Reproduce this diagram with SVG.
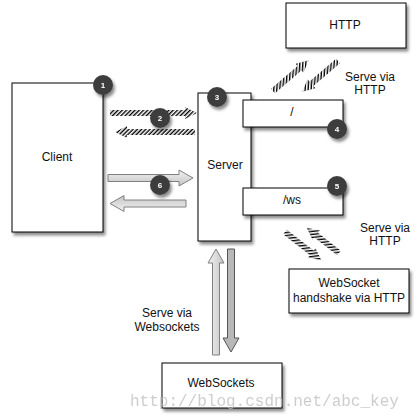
<svg xmlns="http://www.w3.org/2000/svg" width="419" height="418" viewBox="0 0 419 418">
<defs>
<style>
.box{fill:#fff;stroke:#000;stroke-width:1}
.lbl{font-family:"Liberation Sans",Arial,sans-serif;font-size:12px;fill:#111;text-anchor:middle}
.badge circle{fill:#3e3e3e}
.badge text{font-family:"Liberation Sans",Arial,sans-serif;font-size:8px;font-weight:bold;fill:#fff;text-anchor:middle}
.hat{fill:url(#hatch)}
.blk{fill:url(#lightg);stroke:#808080;stroke-width:1}
.blkd{fill:#b8b8b8;stroke:#555;stroke-width:1}
.wm{font-family:"Liberation Mono","DejaVu Sans Mono",monospace;font-size:16px;fill:#bdbdbd;opacity:0.75}
</style>
<filter id="sh" x="-20%" y="-20%" width="150%" height="150%">
<feDropShadow dx="2" dy="3" stdDeviation="1.5" flood-color="#000" flood-opacity="0.45"/>
</filter>
<pattern id="hatch" width="3" height="3" patternUnits="userSpaceOnUse" patternTransform="rotate(45)">
<rect x="0" y="0" width="1.4" height="3" fill="#000"/>
</pattern>
<linearGradient id="lightg" x1="0" y1="0" x2="0" y2="1">
<stop offset="0" stop-color="#f2f2f2"/>
<stop offset="1" stop-color="#c4c4c4"/>
</linearGradient>
</defs>

<g id="connectors">
<polygon class="hat" transform="translate(110,113)" points="0,-3 75,-3 75,-6 87,0 75,6 75,3 0,3"/>
<polygon class="hat" transform="translate(195,132) rotate(180)" points="0,-3 68,-3 68,-6 80,0 68,6 68,3 0,3"/>
<polygon class="blk" transform="translate(108,178)" points="0,-3.5 71,-3.5 71,-8 85,0 71,8 71,3.5 0,3.5"/>
<polygon class="blk" transform="translate(186,203.5) rotate(180)" points="0,-3.5 62,-3.5 62,-8 76,0 62,8 62,3.5 0,3.5"/>
<polygon class="hat" transform="translate(273,91) rotate(-40.7)" points="0,-3 35,-3 35,-6 47,0 35,6 35,3 0,3"/>
<polygon class="hat" transform="translate(338,61) rotate(139.3)" points="0,-3 35,-3 35,-6 47,0 35,6 35,3 0,3"/>
<polygon class="hat" transform="translate(285,232) rotate(37.9)" points="0,-3 34,-3 34,-6 46,0 34,6 34,3 0,3"/>
<polygon class="hat" transform="translate(339,253) rotate(-142)" points="0,-3 29,-3 29,-6 41,0 29,6 29,3 0,3"/>
<polygon class="blk" transform="translate(216,355) rotate(-90)" points="0,-3.5 92,-3.5 92,-8 106,0 92,8 92,3.5 0,3.5"/>
<polygon class="blkd" transform="translate(231,249) rotate(90)" points="0,-3.5 89,-3.5 89,-8 103,0 89,8 89,3.5 0,3.5"/>
</g>

<g id="client">
<rect class="box" filter="url(#sh)" x="12" y="83" width="91" height="149"/>
<text class="lbl" x="57" y="161">Client</text>
</g>

<g id="server">
<rect class="box" filter="url(#sh)" x="198" y="93" width="53" height="148"/>
<text class="lbl" x="225" y="169">Server</text>
</g>

<g id="route-root">
<rect class="box" filter="url(#sh)" x="243" y="100" width="100" height="27"/>
<text class="lbl" x="292" y="116">/</text>
</g>

<g id="route-ws">
<rect class="box" filter="url(#sh)" x="243" y="188" width="100" height="27"/>
<text class="lbl" x="292" y="204">/ws</text>
</g>

<g id="http">
<rect class="box" filter="url(#sh)" x="286" y="3" width="120" height="45"/>
<text class="lbl" x="345" y="29">HTTP</text>
</g>

<g id="handshake">
<rect class="box" filter="url(#sh)" x="289" y="269" width="120" height="44"/>
<text class="lbl" x="349" y="287">WebSocket</text>
<text class="lbl" x="349" y="302">handshake via HTTP</text>
</g>

<g id="websockets">
<rect class="box" filter="url(#sh)" x="162" y="363" width="120" height="45"/>
<text class="lbl" x="221" y="387">WebSockets</text>
</g>

<g id="labels">
<text class="lbl" x="370" y="81">Serve via</text>
<text class="lbl" x="370" y="94">HTTP</text>
<text class="lbl" x="385" y="232">Serve via</text>
<text class="lbl" x="385" y="245">HTTP</text>
<text class="lbl" x="167" y="317">Serve via</text>
<text class="lbl" x="167" y="331">Websockets</text>
</g>

<g id="badges" class="badge">
<g id="b1" filter="url(#sh)"><circle cx="103" cy="85" r="10"/><text x="103" y="88">1</text></g>
<g id="b2" filter="url(#sh)"><circle cx="160" cy="118" r="10"/><text x="160" y="121">2</text></g>
<g id="b3" filter="url(#sh)"><circle cx="217" cy="97" r="10"/><text x="217" y="100">3</text></g>
<g id="b4" filter="url(#sh)"><circle cx="337" cy="129" r="10"/><text x="337" y="132">4</text></g>
<g id="b5" filter="url(#sh)"><circle cx="337" cy="186" r="10"/><text x="337" y="189">5</text></g>
<g id="b6" filter="url(#sh)"><circle cx="160" cy="185" r="10"/><text x="160" y="188">6</text></g>
</g>

<text class="wm" x="130" y="406">http://blog.csdn.net/abc_key</text>
</svg>
